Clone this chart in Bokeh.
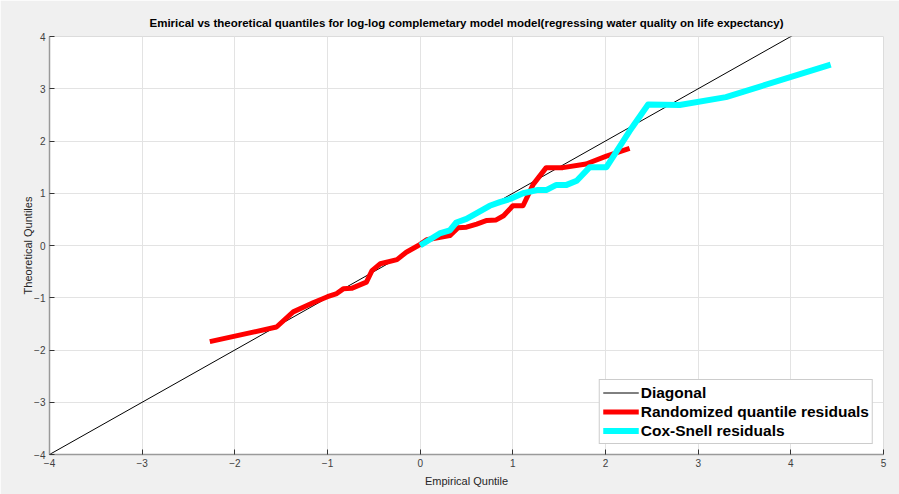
from bokeh.plotting import figure
from bokeh.models import Range1d, FixedTicker, Legend, LegendItem
from bokeh.embed import file_html
from bokeh.resources import INLINE

# Diagonal reference line
diag_x = [-4, 5]
diag_y = [-4, 5]

# Randomized quantile residuals
rq_x = [-2.27, -1.55, -1.37, -1.15, -1.00, -0.90, -0.83, -0.74, -0.58, -0.52, -0.43,
        -0.25, -0.15, -0.02, 0.07, 0.32, 0.41, 0.50, 0.61, 0.72, 0.82, 0.90, 1.00,
        1.11, 1.22, 1.36, 1.54, 1.79, 2.01, 2.26]
rq_y = [-1.84, -1.56, -1.27, -1.09, -0.98, -0.92, -0.83, -0.82, -0.70, -0.48, -0.35,
        -0.27, -0.13, 0.00, 0.11, 0.19, 0.34, 0.35, 0.41, 0.48, 0.49, 0.57, 0.76,
        0.76, 1.17, 1.49, 1.49, 1.56, 1.71, 1.86]

# Cox-Snell residuals
cs_x = [0.00, 0.21, 0.32, 0.39, 0.50, 0.75, 0.86, 0.97, 1.11, 1.26, 1.36, 1.47, 1.58,
        1.69, 1.83, 2.01, 2.26, 2.46, 2.80, 3.30, 4.43]
cs_y = [0.00, 0.23, 0.29, 0.44, 0.51, 0.76, 0.83, 0.89, 1.00, 1.06, 1.06, 1.16, 1.16,
        1.24, 1.50, 1.50, 2.19, 2.70, 2.69, 2.84, 3.46]

x_ticks = [-4, -3, -2, -1, 0, 1, 2, 3, 4, 5]
y_ticks = [-4, -3, -2, -1, 0, 1, 2, 3, 4]

FONT = "Liberation Sans"

p = figure(width=899, height=494, output_backend="svg", toolbar_location=None,
           x_range=Range1d(-4, 5), y_range=Range1d(-4, 4),
           min_border_left=49, min_border_right=16, min_border_top=36, min_border_bottom=40)

p.border_fill_color = "#f0f0f0"
p.background_fill_color = "white"
p.outline_line_color = "#dcdcdc"
p.outline_line_width = 1

p.title.text = "Emirical vs theoretical quantiles for log-log complemetary model model(regressing water quality on life expectancy)"
p.title.align = "center"
p.title.text_font = FONT
p.title.text_font_size = "11.5px"
p.title.text_font_style = "bold"
p.title.text_color = "#000000"
p.title.standoff = 16

for ax, ticks in ((p.xaxis[0], x_ticks), (p.yaxis[0], y_ticks)):
    ax.ticker = FixedTicker(ticks=ticks)
    ax.minor_tick_line_color = None
    ax.major_tick_in = 5
    ax.major_tick_out = 0
    ax.major_tick_line_color = "#333333"
    ax.axis_line_color = "#9a9a9a"
    ax.axis_line_width = 1.5
    ax.major_label_text_font = FONT
    ax.major_label_text_font_size = "10px"
    ax.major_label_text_color = "#404040"
    ax.axis_label_text_font = FONT
    ax.axis_label_text_font_size = "11px"
    ax.axis_label_text_font_style = "normal"
    ax.axis_label_text_color = "#262626"
    ax.major_label_standoff = 4

p.xaxis.axis_label = "Empirical Quntile"
p.yaxis.axis_label = "Theoretical Quntiles"
p.xaxis.axis_label_standoff = 5
p.yaxis.axis_label_standoff = -3

p.grid.grid_line_color = "#e3e3e3"
p.grid.grid_line_width = 1
p.xgrid.ticker = FixedTicker(ticks=x_ticks)
p.ygrid.ticker = FixedTicker(ticks=y_ticks)

r_diag = p.line(diag_x, diag_y, line_color="black", line_width=1)
r_rq = p.line(rq_x, rq_y, line_color="#ff0000", line_width=5, line_join="round")
r_cs = p.line(cs_x, cs_y, line_color="#00ffff", line_width=6, line_join="round")

legend = Legend(items=[
    LegendItem(label="Diagonal", renderers=[r_diag]),
    LegendItem(label="Randomized quantile residuals", renderers=[r_rq]),
    LegendItem(label="Cox-Snell residuals", renderers=[r_cs]),
], location="bottom_right")
legend.label_text_font = FONT
legend.label_text_font_size = "15.5px"
legend.label_text_font_style = "bold"
legend.label_text_color = "black"
legend.glyph_width = 36
legend.glyph_height = 19
legend.label_height = 19
legend.label_standoff = 2
legend.spacing = 0
legend.padding = 3
legend.margin = 10
legend.border_line_color = "#9a9a9a"
legend.border_line_width = 1
legend.background_fill_color = "white"
legend.background_fill_alpha = 1
p.add_layout(legend)

open("out.html", "w").write(file_html(p, INLINE))
